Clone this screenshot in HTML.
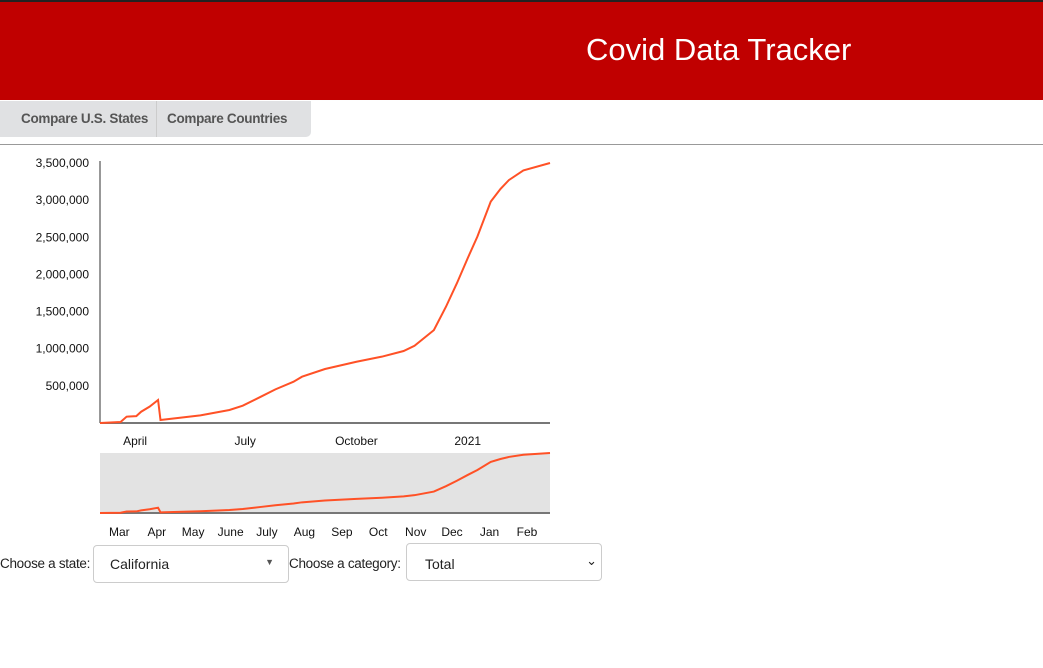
<!DOCTYPE html>
<html><head><meta charset="utf-8"><style>
body{margin:0;width:1043px;height:668px;background:#fff;font-family:"Liberation Sans",sans-serif;position:relative;overflow:hidden}
#hdr{position:absolute;left:0;top:0;width:1043px;height:100px;background:#c00000;border-top:2px solid #222;box-sizing:border-box}
#hdr h1{position:absolute;left:586px;top:30px;margin:0;font-size:31px;font-weight:normal;color:#fff;white-space:nowrap}
#tabs{position:absolute;left:0;top:101px;width:311px;height:36px;background:#e0e1e3;border-radius:0 0 5px 0}
.tab{position:absolute;top:0;height:36px;line-height:36px;font-size:13.5px;font-weight:bold;color:#555;white-space:nowrap;box-sizing:border-box}
#rule{position:absolute;left:0;top:144px;width:1043px;height:1px;background:#999}
.ctl{position:absolute;font-size:13.5px;color:#222;white-space:nowrap;letter-spacing:-0.3px}
.sel{position:absolute;border:1px solid #ccc;border-radius:4px;background:#fff;box-sizing:border-box;font-size:14px;color:#222;white-space:nowrap}
</style></head><body>
<div id="hdr"><h1>Covid Data Tracker</h1></div>
<div id="tabs">
<div class="tab" style="left:0;width:157px;padding-left:21px;border-right:1px solid #ccc;letter-spacing:-0.3px">Compare U.S. States</div>
<div class="tab" style="left:167px;letter-spacing:-0.3px">Compare Countries</div>
</div>
<div id="rule"></div>
<svg id="chart" width="1043" height="668" style="position:absolute;left:0;top:0"></svg>
<div class="ctl" style="left:0;top:556px">Choose a state:</div>
<div class="sel" style="left:93px;top:545px;width:196px;height:38px;padding:10px 0 0 16px">California<span style="position:absolute;right:14px;top:11px;font-size:9px;color:#555">▼</span></div>
<div class="ctl" style="left:289px;top:556px">Choose a category:</div>
<div class="sel" style="left:406px;top:543px;width:196px;height:38px;padding:12px 0 0 18px">Total<span style="position:absolute;right:4px;top:9px;font-size:13px;color:#222">⌄</span></div>
<script>
const dates=["2020-03-03","2020-03-20","2020-03-25","2020-04-02","2020-04-06","2020-04-13","2020-04-20","2020-04-22","2020-05-25","2020-06-18","2020-06-29","2020-07-14","2020-07-26","2020-08-10","2020-08-17","2020-09-05","2020-10-01","2020-10-22","2020-11-09","2020-11-18","2020-12-04","2020-12-14","2020-12-23","2021-01-01","2021-01-09","2021-01-20","2021-01-28","2021-02-04","2021-02-16","2021-03-10"];
const values=[0,13000,85000,92000,152000,220000,310000,40000,103000,175000,233000,354000,453000,556000,623000,727000,825000,893000,969000,1040000,1250000,1565000,1880000,2220000,2510000,2980000,3150000,3270000,3400000,3500000];
const yTicks=[500000,1000000,1500000,2000000,2500000,3000000,3500000];
const mainTicks=[["2020-04-01","April"],["2020-07-01","July"],["2020-10-01","October"],["2021-01-01","2021"]];
const ctxTicks=[["2020-03-01","Mar"],["2020-04-01","Apr"],["2020-05-01","May"],["2020-06-01","June"],["2020-07-01","July"],["2020-08-01","Aug"],["2020-09-01","Sep"],["2020-10-01","Oct"],["2020-11-01","Nov"],["2020-12-01","Dec"],["2021-01-01","Jan"],["2021-02-01","Feb"]];
const svg=document.getElementById('chart');const NS='http://www.w3.org/2000/svg';
const t0=Date.parse("2020-03-03"),t1=Date.parse("2021-03-10");
const x=d=>100+(Date.parse(d)-t0)/(t1-t0)*450;
const y=v=>423-v/3500000*260;
const yc=v=>513-v/3500000*60;
function mk(tag,attrs,parent){const e=document.createElementNS(NS,tag);for(const k in attrs)e.setAttribute(k,attrs[k]);(parent||svg).appendChild(e);return e;}
const font='font-family:"Liberation Sans",sans-serif;font-size:12px;fill:#111';
let bg=mk('rect',{x:100,y:453,width:450,height:60,fill:'#e3e3e3'});


let ya=mk('line',{x1:100,y1:161,x2:100,y2:423,stroke:'#777','stroke-width':1.5});


let xa=mk('line',{x1:100,y1:423,x2:550,y2:423,stroke:'#777','stroke-width':2});


let ca=mk('line',{x1:100,y1:513,x2:550,y2:513,stroke:'#777','stroke-width':2});


yTicks.forEach(v=>{const t=mk('text',{x:89,y:y(v)+4,'text-anchor':'end',style:font});t.textContent=v.toLocaleString('en-US');

});
mainTicks.forEach(([d,l])=>{const t=mk('text',{x:x(d),y:445,'text-anchor':'middle',style:font});t.textContent=l;

});
const off=18*86400000;
ctxTicks.forEach(([d,l])=>{const xx=100+(Date.parse(d)+off-t0)/(t1-t0)*450;const t=mk('text',{x:xx,y:536,'text-anchor':'middle',style:font});t.textContent=l;

});
let p=mk('path',{d:dates.map((d,i)=>(i?'L':'M')+x(d)+','+y(values[i])).join(''),fill:'none',stroke:'#ff5126','stroke-width':2});


let pc=mk('path',{d:dates.map((d,i)=>(i?'L':'M')+x(d)+','+yc(values[i])).join(''),fill:'none',stroke:'#ff5126','stroke-width':2});


</script>
</body></html>
